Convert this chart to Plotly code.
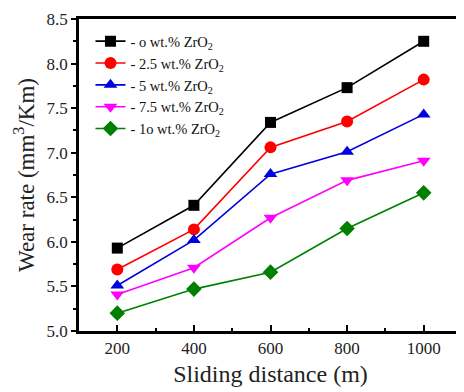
import plotly.graph_objects as go

distance = [200, 400, 600, 800, 1000]
series_names = ["- o wt.% ZrO<sub>2</sub>", "- 2.5 wt.% ZrO<sub>2</sub>", "- 5 wt.% ZrO<sub>2</sub>",
                "- 7.5 wt.% ZrO<sub>2</sub>", "- 1o wt.% ZrO<sub>2</sub>"]
wt0 = [5.93, 6.41, 7.34, 7.73, 8.25]
wt25 = [5.69, 6.14, 7.06, 7.35, 7.82]
wt5 = [5.51, 6.02, 6.76, 7.01, 7.43]
wt75 = [5.41, 5.71, 6.27, 6.69, 6.91]
wt10 = [5.20, 5.47, 5.66, 6.15, 6.55]

values = [wt0, wt25, wt5, wt75, wt10]
colors = ["#000000", "#ff0000", "#0000e0", "#ff00ff", "#008000"]
symbols = ["square", "circle", "triangle-up", "triangle-down", "diamond"]
sizes = [11, 12, 12, 12, 12]

fig = go.Figure()
for name, y, c, s, sz in zip(series_names, values, colors, symbols, sizes):
    fig.add_trace(go.Scatter(x=distance, y=y, name=name, mode="lines+markers",
                             line=dict(color=c, width=1.6),
                             marker=dict(symbol=s, size=sz, color=c)))

font = "Liberation Serif"
# page body has an 8px margin, so the figure is 8px smaller and shifted
fig.update_layout(
    width=456, height=384,
    margin=dict(l=71, r=2, t=11, b=61, autoexpand=False),
    plot_bgcolor="white", paper_bgcolor="white",
    font=dict(family=font, color="#222"),
    showlegend=True,
    legend=dict(x=0.03, y=0.98, xanchor="left", yanchor="top",
                font=dict(family=font, size=14.5, color="#111"),
                bgcolor="rgba(0,0,0,0)", tracegroupgap=0,
                itemsizing="trace"),
    xaxis=dict(range=[100, 1100], tickvals=[200, 400, 600, 800, 1000],
               ticks="inside", ticklen=6, tickwidth=2, tickcolor="black",
               minor=dict(dtick=100, ticks="inside", ticklen=3, tickwidth=2, tickcolor="black"),
               showline=True, linecolor="black", linewidth=2.5, mirror=True,
               showgrid=False, zeroline=False, automargin=False,
               tickfont=dict(family=font, size=17, color="#222"),
               title=dict(text="Sliding distance (m)", font=dict(family=font, size=24, color="#222"),
                          standoff=9)),
    yaxis=dict(range=[5.0, 8.5], tickvals=[5.0, 5.5, 6.0, 6.5, 7.0, 7.5, 8.0, 8.5],
               ticktext=["5.0", "5.5", "6.0", "6.5", "7.0", "7.5", "8.0", "8.5"],
               ticks="outside", ticklen=5, tickwidth=2, tickcolor="black",
               minor=dict(dtick=0.25, ticks="outside", ticklen=3, tickwidth=2, tickcolor="black"),
               showline=True, linecolor="black", linewidth=2.5, mirror=True,
               showgrid=False, zeroline=False, automargin=False,
               tickfont=dict(family=font, size=17, color="#222"),
               title=dict(text="Wear rate (mm<sup>3</sup>/Km)", font=dict(family=font, size=23, color="#222"),
                          standoff=6)),
)

fig.write_html("out.html")
